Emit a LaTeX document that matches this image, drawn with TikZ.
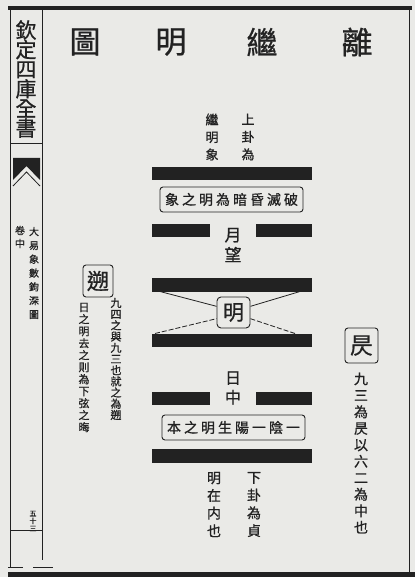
\documentclass[tikz,border=0pt]{standalone}
\usepackage{fontspec}
\newfontfamily\cjk[FakeBold=0.8]{Noto Sans CJK TC}
\definecolor{paper}{RGB}{234,234,231}
\definecolor{ink}{RGB}{34,34,34}
\newcommand{\fs}[2]{\cjk\fontsize{#1}{#2}\selectfont}
\begin{document}
\begin{tikzpicture}[x=1pt,y=-1pt,
  every node/.style={text=ink, inner sep=0pt, align=center},
  bar/.style={fill=ink, draw=none, minimum height=13.5pt, inner sep=0pt},
  longbar/.style={bar, minimum width=160pt},
  leftbar/.style={bar, minimum width=58pt},
  rightbar/.style={bar, minimum width=56pt},
  tbox/.style={draw=ink, line width=0.9pt, rounded corners=3pt, fill=paper},
  link/.style={draw=ink, line width=0.8pt},
  faint/.style={link, dashed, dash pattern=on 5pt off 2pt},
  rule/.style={draw=ink, line width=0.8pt}]
\useasboundingbox (0,0) rectangle (415,577);
\fill[paper] (0,0) rectangle (415,577);
% page frame
\fill[ink] (8,6) rectangle (412,10);
\fill[ink] (8,572) rectangle (415,577);
\draw[rule] (409,10) -- (409,572);
\draw[rule] (10,10) -- (10,567);
\draw[rule] (42,10) -- (42,560);
\draw[rule] (10,143) -- (42,143);
\draw[rule] (10,530) -- (42,530);
\draw[rule] (8,567) -- (23,567);
\draw[rule] (33,567) -- (53,567);
% fish tail
\fill[ink] (13,158) -- (40,158) -- (40,180) -- (26.5,166) -- (13,180) -- cycle;
\draw[ink, line width=0.8pt] (13,186) -- (26.5,172) -- (40,186);
% side column text
\node[font=\fs{21}{19.6}] (book) at (26,79) {欽\\定\\四\\庫\\全\\書};
\node[font=\fs{10}{13.8}] (work) at (34,273) {大\\易\\象\\數\\鉤\\深\\圖};
\node[font=\fs{10}{13}] (juan) at (20,237) {卷\\中};
\node[font=\fs{7}{7.5}] (page) at (33,521) {五\\十\\三};
% title
\node[font=\fs{31}{31}] (t1) at (85,42) {圖};
\node[font=\fs{31}{31}] (t2) at (171,42) {明};
\node[font=\fs{31}{31}] (t3) at (262,42) {繼};
\node[font=\fs{31}{31}] (t4) at (357,42) {離};
% upper labels
\node[font=\fs{13}{17.5}] (up1) at (248,137) {上\\卦\\為};
\node[font=\fs{13}{17.5}] (up2) at (212,137) {繼\\明\\象};
% bars
\node[longbar] (bar1) at (232,173.5) {};
\node[tbox, minimum width=143pt, minimum height=25pt, font=\fs{14}{14}] (box1) at (231.5,199.5)
  {象\kern3pt 之\kern3pt 明\kern3pt 為\kern3pt 暗\kern3pt 昏\kern3pt 滅\kern3pt 破};
\node[leftbar] (bar2l) at (181,230.5) {};
\node[rightbar] (bar2r) at (284,230.5) {};
\node[font=\fs{17}{20}] (yue) at (233,245) {月\\望};
\node[longbar] (bar3) at (232,285) {};
\node[longbar] (bar4) at (232,340.5) {};
\node[tbox, rounded corners=4pt, minimum width=33pt, minimum height=31pt, font=\fs{21}{21}] (ming) at (233.5,312.5) {明};
\coordinate (tl) at (160,291.5);
\coordinate (tr) at (300,291.5);
\coordinate (bl) at (155,333.5);
\coordinate (br) at (295,333.5);
\draw[link] (tl) -- (ming.160);
\draw[link] (tr) -- (ming.20);
\draw[faint] (bl) -- (ming.200);
\draw[faint] (br) -- (ming.340);
\node[font=\fs{16}{19.5}] (ri) at (233,388) {日\\中};
\node[leftbar] (bar5l) at (181,398.5) {};
\node[rightbar] (bar5r) at (284,398.5) {};
\node[tbox, minimum width=143pt, minimum height=25pt, font=\fs{14}{14}] (box2) at (233.5,427.5)
  {本\kern3pt 之\kern3pt 明\kern3pt 生\kern3pt 陽\kern3pt 一\kern3pt 陰\kern3pt 一};
\node[longbar] (bar6) at (232,456) {};
% lower labels
\node[font=\fs{14}{17.7}] (low1) at (214,504.5) {明\\在\\内\\也};
\node[font=\fs{14}{17.7}] (low2) at (254,504.5) {下\\卦\\為\\貞};
% left notes
\node[tbox, rounded corners=3pt, minimum width=30pt, minimum height=32pt, font=\fs{22}{22}] (su) at (98,281) {遡};
\node[font=\fs{11}{11.2}] (su1) at (116,359) {九\\四\\之\\與\\九\\三\\也\\就\\之\\為\\遡};
\node[font=\fs{11}{12}] (su2) at (84,367.5) {日\\之\\明\\去\\之\\則\\為\\下\\弦\\之\\晦};
% right notes
\node[tbox, rounded corners=3pt, minimum width=33pt, minimum height=35pt, font=\fs{23}{23}] (ze) at (361.5,345.5) {昃};
\node[font=\fs{14}{16.5}] (ze1) at (361,453) {九\\三\\為\\昃\\以\\六\\二\\為\\中\\也};
\end{tikzpicture}
\end{document}
